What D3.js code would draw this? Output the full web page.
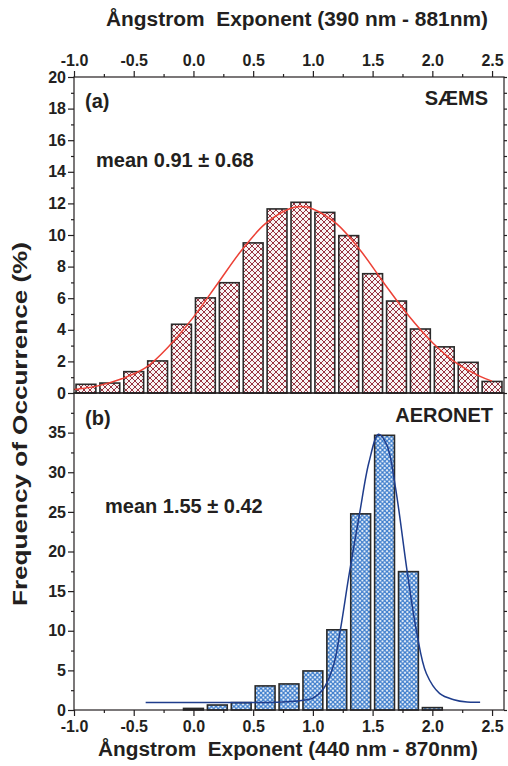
<!DOCTYPE html>
<html>
<head>
<meta charset="utf-8">
<script src="https://cdn.jsdelivr.net/npm/d3@7"></script>
<style>
  html, body { margin: 0; padding: 0; background: #fff; }
  svg { display: block; }
  text { font-family: "Liberation Sans", Arial, sans-serif; font-weight: bold; fill: #231f20; }
</style>
</head>
<body>
<svg id="chart" width="508" height="766"></svg>
<script>
// ---- data ----
// SÆMS histogram: bin centres and frequency of occurrence (%)
const saemsBins = [-0.9, -0.7, -0.5, -0.3, -0.1, 0.1, 0.3, 0.5, 0.7, 0.9, 1.1, 1.3, 1.5, 1.7, 1.9, 2.1, 2.3, 2.5];
const saemsFreq = [0.55, 0.63, 1.35, 2.03, 4.35, 6.02, 6.98, 9.5, 11.65, 12.07, 11.43, 9.96, 7.55, 5.82, 4.05, 2.92, 1.94, 0.73];
// fitted distribution curve for SÆMS
const saemsFitX = [-1.0, -0.8, -0.6, -0.4, -0.2, 0.0, 0.2, 0.4, 0.6, 0.8, 0.9, 1.0, 1.2, 1.4, 1.6, 1.8, 2.0, 2.2, 2.4, 2.5];
const saemsFitY = [0.22, 0.45, 0.9, 1.6, 3.0, 4.8, 6.9, 9.0, 10.7, 11.65, 11.8, 11.65, 10.7, 9.0, 6.9, 4.9, 3.2, 1.9, 1.05, 0.75];

// AERONET histogram
const aeronetBins = [0.0, 0.2, 0.4, 0.6, 0.8, 1.0, 1.2, 1.4, 1.6, 1.8, 2.0];
const aeronetFreq = [0.2, 0.63, 0.93, 3.04, 3.29, 4.93, 10.12, 24.75, 34.66, 17.46, 0.3];
// fitted distribution curve for AERONET
const aeronetFitX = [-0.4, 0.0, 0.4, 0.7, 0.85, 0.95, 1.0, 1.08, 1.17, 1.23, 1.3, 1.39, 1.47, 1.55, 1.62, 1.69, 1.79, 1.87, 1.95, 2.06, 2.18, 2.29, 2.4];
const aeronetFitY = [0.95, 0.95, 0.95, 0.98, 1.1, 1.3, 1.5, 2.5, 5.5, 10.1, 16.8, 24.7, 31.3, 34.8, 33.4, 28.2, 17.4, 9.7, 4.6, 2.1, 1.3, 1.0, 0.97];

// axis ticks
const xMajor = [-1.0, -0.5, 0.0, 0.5, 1.0, 1.5, 2.0, 2.5];
const xMajorLabels = ["-1.0", "-0.5", "0.0", "0.5", "1.0", "1.5", "2.0", "2.5"];
const xMinor = [-0.75, -0.25, 0.25, 0.75, 1.25, 1.75, 2.25];
const yaMajor = [0, 2, 4, 6, 8, 10, 12, 14, 16, 18, 20];
const yaMinor = [1, 3, 5, 7, 9, 11, 13, 15, 17, 19];
const ybMajor = [0, 5, 10, 15, 20, 25, 30, 35];
const ybMinor = [2.5, 7.5, 12.5, 17.5, 22.5, 27.5, 32.5, 37.5];

// ---- layout ----
const svg = d3.select("#chart");
const L = 74, R = 504, aTop = 77, mid = 393, bBot = 710;
const ink = "#231f20";

const x = d3.scaleLinear().domain([-1.0, 2.6]).range([L, R]);
const ya = d3.scaleLinear().domain([0, 20]).range([mid, aTop]);
const yb = d3.scaleLinear().domain([0, 40]).range([bBot, mid]);
const barHalf = 0.083;

// ---- hatch patterns ----
const defs = svg.append("defs");
const pr = defs.append("pattern").attr("id", "hatchRed").attr("patternUnits", "userSpaceOnUse")
  .attr("width", 6).attr("height", 6);
pr.append("rect").attr("width", 6).attr("height", 6).attr("fill", "#f8f4f4");
pr.append("path").attr("d", "M-1,-1 L7,7 M7,-1 L-1,7").attr("stroke", "#8c1d2b").attr("stroke-width", 0.9);

const pb = defs.append("pattern").attr("id", "hatchBlue").attr("patternUnits", "userSpaceOnUse")
  .attr("width", 4.5).attr("height", 4.5);
pb.append("rect").attr("width", 4.5).attr("height", 4.5).attr("fill", "#ffffff");
pb.append("path").attr("d", "M-1,-1 L5.5,5.5 M5.5,-1 L-1,5.5").attr("stroke", "#3a7bcb").attr("stroke-width", 1.3);

// ---- bars ----
function drawBars(bins, vals, y, fill) {
  svg.append("g").selectAll("rect").data(bins).join("rect")
    .attr("x", d => x(d - barHalf))
    .attr("width", d => x(d + barHalf) - x(d - barHalf))
    .attr("y", (d, i) => y(vals[i]))
    .attr("height", (d, i) => y(0) - y(vals[i]))
    .attr("fill", fill)
    .attr("stroke", "#2a2a2a")
    .attr("stroke-width", 1.6);
}
drawBars(saemsBins, saemsFreq, ya, "url(#hatchRed)");
drawBars(aeronetBins, aeronetFreq, yb, "url(#hatchBlue)");

// ---- fitted curves ----
function drawFit(xs, ys, y, color) {
  const line = d3.line().x(d => x(d[0])).y(d => y(d[1])).curve(d3.curveCatmullRom.alpha(0.5));
  svg.append("path").datum(xs.map((v, i) => [v, ys[i]]))
    .attr("d", line).attr("fill", "none").attr("stroke", color).attr("stroke-width", 1.5);
}
drawFit(saemsFitX, saemsFitY, ya, "#ec4136");
drawFit(aeronetFitX, aeronetFitY, yb, "#1f3d8c");

// ---- frames ----
svg.append("rect").attr("x", L).attr("y", aTop).attr("width", R - L).attr("height", mid - aTop)
  .attr("fill", "none").attr("stroke", ink).attr("stroke-width", 1.2);
svg.append("rect").attr("x", L).attr("y", mid).attr("width", R - L).attr("height", bBot - mid)
  .attr("fill", "none").attr("stroke", ink).attr("stroke-width", 1.2);

// ---- axes ----
function styleAxis(g) {
  g.select(".domain").remove();
  g.selectAll("line").attr("stroke", ink).attr("stroke-width", 1.2);
}
function styleLabels(g) {
  g.selectAll("text").attr("font-size", 16).attr("fill", ink)
    .style("font-family", "Liberation Sans").style("font-weight", "bold");
}
// top axis
svg.append("g").attr("transform", `translate(0,${aTop})`)
  .call(d3.axisTop(x).tickValues(xMajor).tickSize(6).tickPadding(5).tickFormat((d, i) => xMajorLabels[i]))
  .call(styleAxis).call(styleLabels);
svg.append("g").attr("transform", `translate(0,${aTop})`)
  .call(d3.axisTop(x).tickValues(xMinor).tickSize(3).tickFormat(""))
  .call(styleAxis);
// bottom axis
svg.append("g").attr("transform", `translate(0,${bBot})`)
  .call(d3.axisBottom(x).tickValues(xMajor).tickSize(6).tickPadding(5).tickFormat((d, i) => xMajorLabels[i]))
  .call(styleAxis).call(styleLabels);
svg.append("g").attr("transform", `translate(0,${bBot})`)
  .call(d3.axisBottom(x).tickValues(xMinor).tickSize(3).tickFormat(""))
  .call(styleAxis);
// left axes
function leftAxis(y, major, minor) {
  svg.append("g").attr("transform", `translate(${L},0)`)
    .call(d3.axisLeft(y).tickValues(major).tickSize(6).tickPadding(2).tickFormat(d3.format("d")))
    .call(styleAxis).call(styleLabels);
  svg.append("g").attr("transform", `translate(${L},0)`)
    .call(d3.axisLeft(y).tickValues(minor).tickSize(3).tickFormat(""))
    .call(styleAxis);
}
leftAxis(ya, yaMajor, yaMinor);
leftAxis(yb, ybMajor, ybMinor);
// right axes: unlabelled outward ticks
svg.append("g").attr("transform", `translate(${R},0)`)
  .call(d3.axisRight(ya).tickValues(d3.range(0, 21, 1)).tickSize(3).tickFormat(""))
  .call(styleAxis);
svg.append("g").attr("transform", `translate(${R},0)`)
  .call(d3.axisRight(yb).tickValues(d3.range(0, 40, 2.5)).tickSize(3).tickFormat(""))
  .call(styleAxis);

// ---- titles and annotations ----
svg.append("text").attr("x", 297).attr("y", 26).attr("text-anchor", "middle").attr("font-size", 20)
  .attr("textLength", 382).attr("lengthAdjust", "spacingAndGlyphs")
  .text("Ångstrom\u00a0\u00a0Exponent (390 nm - 881nm)");
svg.append("text").attr("x", 288).attr("y", 756).attr("text-anchor", "middle").attr("font-size", 20)
  .attr("textLength", 380).attr("lengthAdjust", "spacingAndGlyphs")
  .text("Ångstrom\u00a0\u00a0Exponent (440 nm - 870nm)");
svg.append("text").attr("transform", "translate(27,424) rotate(-90)").attr("text-anchor", "middle").attr("font-size", 20)
  .attr("textLength", 364).attr("lengthAdjust", "spacingAndGlyphs")
  .text("Frequency of Occurrence (%)");

svg.append("text").attr("x", 85).attr("y", 108).attr("font-size", 20).text("(a)");
svg.append("text").attr("x", 488).attr("y", 105).attr("text-anchor", "end").attr("font-size", 20).text("SÆMS");
svg.append("text").attr("x", 96).attr("y", 167).attr("font-size", 20).text("mean 0.91 ± 0.68");

svg.append("text").attr("x", 85).attr("y", 425).attr("font-size", 20).text("(b)");
svg.append("text").attr("x", 493).attr("y", 422).attr("text-anchor", "end").attr("font-size", 20).text("AERONET");
svg.append("text").attr("x", 105).attr("y", 513).attr("font-size", 20).text("mean 1.55 ± 0.42");
</script>
</body>
</html>
